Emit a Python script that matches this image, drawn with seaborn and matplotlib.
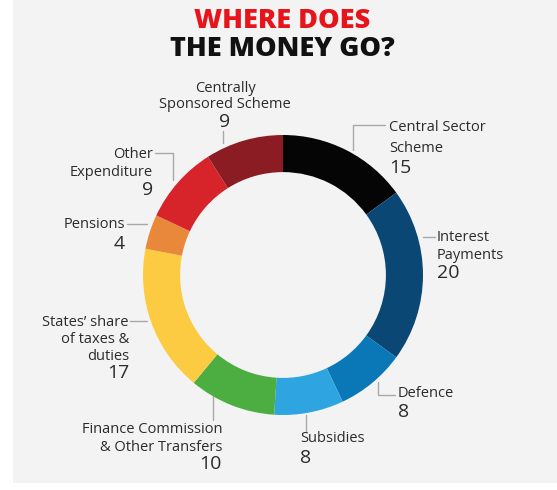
import matplotlib
matplotlib.use("Agg")
import matplotlib.pyplot as plt
import seaborn as sns
from matplotlib.patches import Rectangle

sns.set_theme(style="white")
plt.rcParams['font.family'] = ['Open Sans', 'DejaVu Sans']

# ---- data ----
categories = ["Central Sector Scheme", "Interest Payments", "Defence", "Subsidies",
              "Finance Commission & Other Transfers", "States' share of taxes & duties",
              "Pensions", "Other Expenditure", "Centrally Sponsored Scheme"]
values = [15, 20, 8, 8, 10, 17, 4, 9, 9]
label_lines = [["Central Sector", "Scheme"], ["Interest", "Payments"], ["Defence"],
               ["Subsidies"], ["Finance Commission", "& Other Transfers"],
               ["States\u2019 share", "of taxes &", "duties"], ["Pensions"],
               ["Other", "Expenditure"], ["Centrally", "Sponsored Scheme"]]
colors = ["#050505", "#0b4775", "#0a78b6", "#2ea4e0", "#4cae41",
          "#fccb41", "#e9883b", "#d6242a", "#8c1c24"]

W, H = 557, 490
fig = plt.figure(figsize=(W / 100, H / 100), dpi=100)
fig.patch.set_facecolor("white")

# overlay axes in pixel coordinates (y downward)
ov = fig.add_axes([0, 0, 1, 1])
ov.set_xlim(0, W)
ov.set_ylim(H, 0)
ov.axis("off")
ov.add_patch(Rectangle((13, 0), W - 13, 483, facecolor="#f3f3f3", edgecolor="none", zorder=0))

# donut
cx, cy, R = 283, 275, 140
pax = fig.add_axes([(cx - R) / W, (H - cy - R) / H, 2 * R / W, 2 * R / H])
pax.pie(values, colors=colors, startangle=90, counterclock=False,
        wedgeprops=dict(width=0.265, linewidth=0))
pax.set_aspect("equal")
pax.set_xlim(-1, 1)
pax.set_ylim(-1, 1)
pax.axis("off")

# title
ov.text(282, 21, "WHERE DOES", color="#e8141b", fontsize=19.5, fontweight="heavy",
        ha="center", va="center")
ov.text(282, 49, "THE MONEY GO?", color="#111111", fontsize=19.5, fontweight="heavy",
        ha="center", va="center")

# label layout: (x, ha, line y's, number y)
layout = [
    (389, "left", [127, 148], 168),
    (437, "left", [237, 255], 273),
    (398, "left", [393], 412),
    (300, "left", [438], 458),
    (222, "right", [429, 447], 464),
    (129, "right", [322, 339, 356], 373),
    (125, "right", [224], 244),
    (153, "right", [154, 172], 190),
    (225, "center", [88, 104], 122),
]
txt = "#2b2b2b"
for lines, v, (x, ha, ys, ny) in zip(label_lines, values, layout):
    for line, y in zip(lines, ys):
        ov.text(x, y, line, ha=ha, va="center", fontsize=10.5, color=txt)
    ov.text(x, ny, str(v), ha=ha, va="center", fontsize=14, color=txt)

# leader lines
lc = dict(color="#a8a8a8", lw=1)
leaders = [
    ([353, 353, 385], [150, 125, 125]),
    ([423, 435], [237, 237]),
    ([378, 378, 395], [382, 395, 395]),
    ([306, 306], [415, 432]),
    ([213, 213], [383, 420]),
    ([130, 147], [321, 321]),
    ([127, 147], [224, 224]),
    ([155, 173, 173], [153, 153, 180]),
    ([223, 223], [131, 143]),
]
for xs, ys in leaders:
    ov.plot(xs, ys, **lc)

fig.savefig("out.png", dpi=100, facecolor=fig.get_facecolor())
